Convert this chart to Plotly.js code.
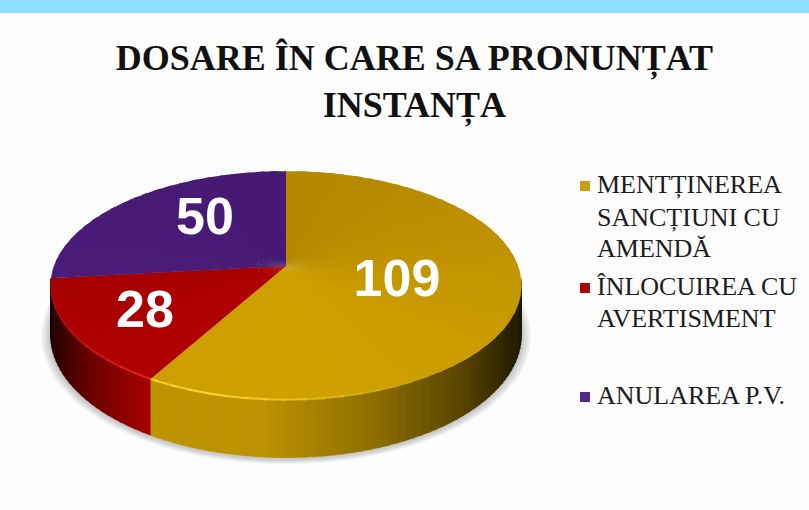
<!DOCTYPE html>
<html><head><meta charset="utf-8">
<script src="https://cdn.plot.ly/plotly-3.0.1.min.js"></script>
<style>html,body{margin:0;padding:0;background:#fdfdfd}#c{width:809px;height:510px}</style>
</head><body><div id="c"></div>
<script>
const categories = ["MENTȚINEREA SANCȚIUNI CU AMENDĂ", "ÎNLOCUIREA CU AVERTISMENT", "ANULAREA P.V."];
const values = [109, 28, 50];
const valueLabelX = [397, 145, 205];
const valueLabelY = [283, 314, 221];
const topBackColors = [[182,136,0], [150,0,0], [70,26,116]];
const topFrontColors = [[206,160,0], [178,0,0], [78,30,124]];
const rimColors = [[255,214,40], [255,40,30], [74,28,120]];
const wallColors = [[200,155,0], [175,0,0], [74,28,120]];
const legendLines = ["MENTȚINEREA", "SANCȚIUNI CU", "AMENDĂ", "ÎNLOCUIREA CU", "AVERTISMENT", "ANULAREA P.V."];
const legendLineX = [597, 597, 597, 597, 597, 597];
const legendLineY = [186, 219, 250, 288, 320, 397];
const swatchX = [585, 585, 585];
const swatchY = [186, 288, 397];
const swatchColors = ["#c9a010", "#a80808", "#4f2a8c"];

const title = "DOSARE ÎN CARE SA PRONUNȚAT<br>INSTANȚA";

const cx = 286, cy = 266, a = 232, b = 111, k = 0.17, depth = 48;
const rad = d => d * Math.PI / 180;
function proj(deg, drop, grow) {
  const X = Math.sin(rad(deg)), Y = Math.cos(rad(deg)), w = 1 + k * Y, g = grow || 1;
  return [cx + g * a * X / w, cy - g * b * Y / w + (drop || 0) / w];
}
function arc(d0, d1, drop, grow) {
  const n = Math.max(1, Math.ceil(Math.abs(d1 - d0))), xs = [], ys = [];
  for (let i = 0; i <= n; i++) { const p = proj(d0 + (d1 - d0) * i / n, drop, grow); xs.push(p[0]); ys.push(p[1]); }
  return [xs, ys];
}
const total = values.reduce((s, v) => s + v, 0);
const edges = [0];
values.forEach(v => edges.push(edges[edges.length - 1] + v / total * 360));

const wallShade = s => {
  const t = [[-1, .12], [-.9, .3], [-.75, .6], [-.5, .95], [-.1, .95], [.3, .72], [.65, .45], [.9, .2], [1, .08]];
  for (let i = 1; i < t.length; i++) if (s <= t[i][0]) {
    const f = (s - t[i-1][0]) / (t[i][0] - t[i-1][0]); return t[i-1][1] + f * (t[i][1] - t[i-1][1]);
  }
  return .08;
};
const base = {type: "scatter", hoverinfo: "skip", showlegend: false};
const traces = [];

// soft shadow under the disc
for (let i = 0; i < 8; i++) {
  const p = arc(0, 360, depth + 1, 1.006 + i * 0.005);
  traces.push({...base, x: p[0], y: p[1], mode: "none", fill: "toself", fillcolor: "rgba(70,70,70,0.035)"});
}
// side wall
values.forEach((v, i) => {
  const from = Math.max(edges[i], 96), to = Math.min(edges[i + 1], 264);
  for (let d = from; d < to; d += 2) {
    const e = Math.min(d + 2.4, to), t = arc(d, e), q = arc(e, d, depth);
    const s = wallShade(Math.sin(rad(d + 1))), c = wallColors[i];
    const col = `rgb(${c.map(u => Math.round(u * s)).join(",")})`;
    traces.push({...base, x: t[0].concat(q[0]), y: t[1].concat(q[1]), mode: "lines",
      line: {color: col, width: 0.6}, fill: "toself", fillcolor: col});
  }
});
// top face: one fan per slice, lighter toward the front; each sector overlaps the next
values.forEach((v, i) => {
  for (let d = edges[i]; d < edges[i + 1]; d += 4) {
    const e = Math.min(d + 6, edges[i + 1]), p = arc(d, e), f = (1 - Math.cos(rad(d + 2))) / 2;
    const col = `rgb(${topBackColors[i].map((u, j) => Math.round(u + f * (topFrontColors[i][j] - u))).join(",")})`;
    traces.push({...base, name: categories[i], x: [cx].concat(p[0], [cx]), y: [cy].concat(p[1], [cy]),
      mode: "none", fill: "toself", fillcolor: col});
  }
});
// bright rim on the front edge
values.forEach((v, i) => {
  const from = Math.max(edges[i], 100), to = Math.min(edges[i + 1], 262);
  for (let d = from; d < to; d += 4) {
    const e = Math.min(d + 4.5, to), p = arc(d, e), X = Math.sin(rad(d));
    const al = Math.max(0, 1 - Math.abs(X + 0.25) / 0.8), c = rimColors[i];
    traces.push({...base, x: p[0], y: p[1], mode: "lines", line: {color: `rgba(${c.join(",")},${al.toFixed(2)})`, width: 2}});
  }
});
// value labels
traces.push({...base, x: valueLabelX, y: valueLabelY, mode: "text", text: values.map(String), textposition: "middle center",
  textfont: {family: "Liberation Sans", size: 52, color: "#ffffff", weight: 700}});
// legend
traces.push({...base, x: swatchX, y: swatchY, mode: "markers",
  marker: {symbol: "square", size: 10, color: swatchColors, line: {width: 0}}});
traces.push({...base, x: legendLineX, y: legendLineY, mode: "text", text: legendLines, textposition: "middle right",
  textfont: {family: "Liberation Serif", size: 26, color: "#1c1c1c"}});

const layout = {
  width: 809, height: 510, margin: {l: 0, r: 0, t: 0, b: 0}, showlegend: false,
  paper_bgcolor: "#fdfdfd", plot_bgcolor: "rgba(0,0,0,0)",
  title: {text: title, x: 0.5122, xanchor: "center", y: 0.863, yanchor: "middle",
    font: {family: "Liberation Serif", size: 36, color: "#111111", weight: 700}},
  xaxis: {range: [0, 809], visible: false, fixedrange: true},
  yaxis: {range: [510, 0], visible: false, fixedrange: true},
  shapes: [{type: "rect", xref: "paper", yref: "paper", x0: 0, x1: 1, y0: 1 - 13 / 510, y1: 1,
    fillcolor: "#8fe0ff", line: {width: 0}, layer: "below"}]
};
Plotly.newPlot("c", traces, layout, {displayModeBar: false, staticPlot: true});
</script></body></html>
